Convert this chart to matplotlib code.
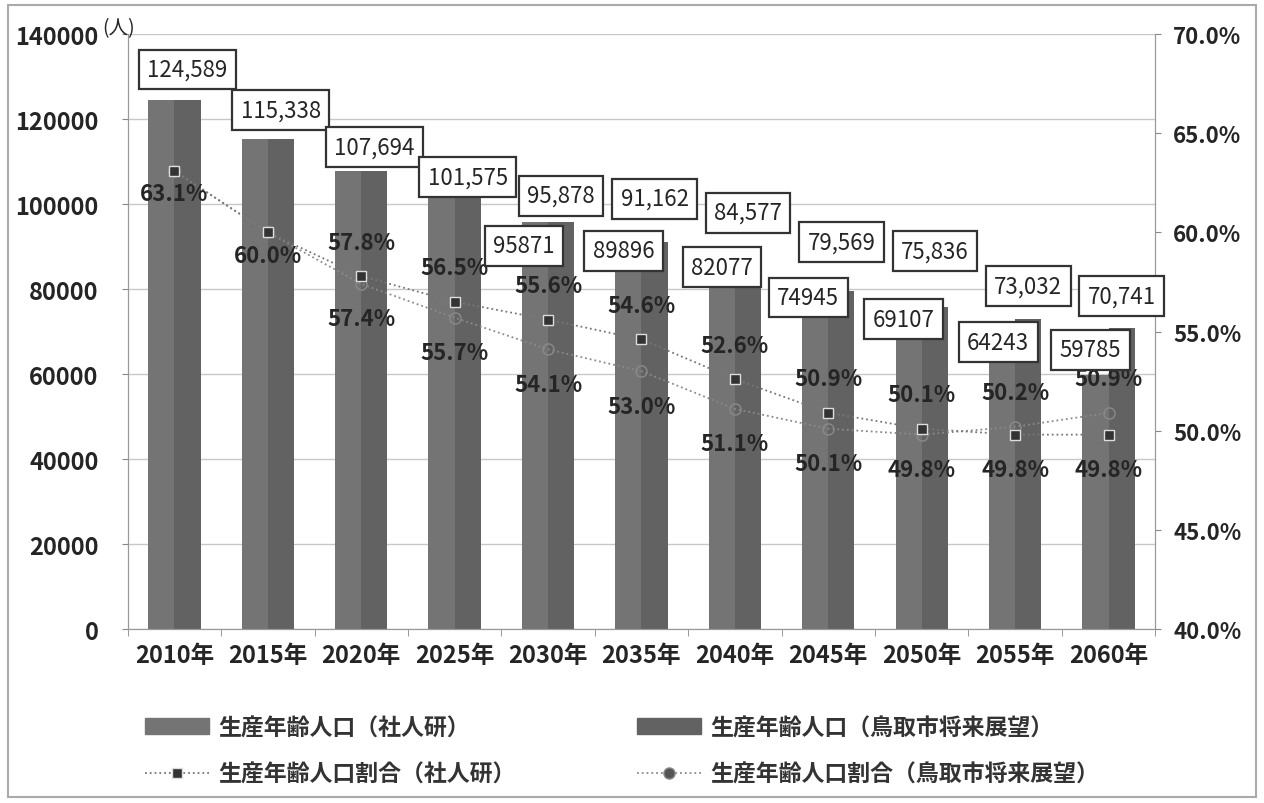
import matplotlib
matplotlib.use("Agg")
import matplotlib.pyplot as plt
from matplotlib.patches import Rectangle, Patch
from matplotlib.lines import Line2D
import matplotlib.ticker as mticker
import numpy as np

plt.rcParams['font.family'] = ['Noto Sans CJK JP', 'DejaVu Sans']

# data
years = ['2010年', '2015年', '2020年', '2025年', '2030年', '2035年',
         '2040年', '2045年', '2050年', '2055年', '2060年']
pop_ipss = [124589, 115338, 107694, 101575, 95871, 89896, 82077, 74945, 69107, 64243, 59785]
pop_vision = [124589, 115338, 107694, 101575, 95878, 91162, 84577, 79569, 75836, 73032, 70741]
ratio_ipss = [63.1, 60.0, 57.8, 56.5, 55.6, 54.6, 52.6, 50.9, 50.1, 49.8, 49.8]
ratio_vision = [63.1, 60.0, 57.4, 55.7, 54.1, 53.0, 51.1, 50.1, 49.8, 50.2, 50.9]

# label layout (offsets in px from bar top, + is up)
vision_lab_dy = [30, 29, 24, 20, 26, 43, 57, 49, 56, 33, 32]
ipss_lab_dy = [None, None, None, None, -24, -4, 13, 13, 16, 14, 25]
ipss_lab_dx = [0, 0, 0, 0, -11, -5, 0, -7, -5, -4, -5]

col_ipss = '#747474'
col_vision = '#626262'
txt = '#252525'
PX = 0.72  # px -> pt at 100 dpi

fig = plt.figure(figsize=(12.64, 8.04), dpi=100)
ax = fig.add_axes([0.101, 0.2164, 0.813, 0.740])
ax2 = ax.twinx()

x = np.arange(len(years))
w = 0.28
ax.bar(x - w/2, pop_ipss, w, color=col_ipss, zorder=2)
ax.bar(x + w/2, pop_vision, w, color=col_vision, zorder=2)

ax.set_ylim(0, 140000)
ax.set_xlim(-0.5, len(years) - 0.5)
ax.yaxis.set_major_locator(mticker.MultipleLocator(20000))
ax.grid(axis='y', color='#c8c8c8', lw=1, zorder=0)
ax.set_axisbelow(True)
ax.set_xticks(x)
ax.set_xticklabels(years)
ax.set_xticks(np.arange(len(years) + 1) - 0.5, minor=True)
ax.tick_params(axis='x', which='major', length=0, pad=10, labelsize=17, labelcolor=txt)
ax.tick_params(axis='x', which='minor', length=5, color='#888')
ax.tick_params(axis='y', length=4, color='#888', pad=17, labelsize=17, labelcolor=txt)

ax2.set_ylim(40, 70)
ax2.yaxis.set_major_locator(mticker.MultipleLocator(5))
ax2.yaxis.set_major_formatter(mticker.FuncFormatter(lambda v, p: f"{v:.1f}%"))
ax2.tick_params(axis='y', length=4, color='#888', pad=9, labelsize=16, labelcolor=txt)

for a in (ax, ax2):
    for s in a.spines.values():
        s.set_color('#999999')
    a.spines['top'].set_visible(False)

for t in ax.get_xticklabels() + ax.get_yticklabels() + ax2.get_yticklabels():
    t.set_fontweight('bold')

# ratio lines
ax2.plot(x, ratio_vision, ls=':', color='#8a8a8a', lw=1.3, marker='o', ms=8,
         mfc='none', mec='#8a8a8a', zorder=3)
ax2.plot(x, ratio_ipss, ls=':', color='#777777', lw=1.3, marker='s', ms=7,
         mfc='#333333', mec='#dddddd', zorder=4)

# ratio labels
lab = dict(ha='center', va='center', fontsize=16, color=txt, fontweight='bold', zorder=6,
           textcoords='offset points')
for i in range(len(years)):
    a, b = ratio_ipss[i], ratio_vision[i]
    if a == b:
        ax2.annotate(f"{a:.1f}%", (x[i], a), xytext=(0, -23 * PX), **lab)
        continue
    hi, lo = max(a, b), min(a, b)
    ax2.annotate(f"{hi:.1f}%", (x[i], hi), xytext=(0, 34 * PX), **lab)
    ax2.annotate(f"{lo:.1f}%", (x[i], lo), xytext=(0, -35 * PX), **lab)

# population labels
box = dict(boxstyle='square,pad=0.38', fc='white', ec='#333333', lw=1.6)
for i in range(len(years)):
    ax2.annotate(f"{pop_vision[i]:,}", (x[i] + w/2, pop_vision[i]), xycoords=ax.transData,
                 xytext=(0, vision_lab_dy[i] * PX), textcoords='offset points',
                 ha='center', va='center', fontsize=16, color=txt, bbox=box, zorder=7)
    if ipss_lab_dy[i] is not None:
        ax2.annotate(f"{pop_ipss[i]}", (x[i] - w/2, pop_ipss[i]), xycoords=ax.transData,
                     xytext=(ipss_lab_dx[i] * PX, ipss_lab_dy[i] * PX), textcoords='offset points',
                     ha='center', va='center', fontsize=16, color=txt, bbox=box, zorder=7)

fig.text(102/1264, 1 - 29/804, '(人)', ha='left', va='center', fontsize=14, color=txt)

# legend
handles = [
    Patch(color=col_ipss),
    Line2D([], [], ls=':', color='#777777', lw=1.3, marker='s', ms=7, mfc='#333333', mec='#dddddd'),
    Patch(color=col_vision),
    Line2D([], [], ls=':', color='#8a8a8a', lw=1.3, marker='o', ms=8, mfc='#555555', mec='#8a8a8a'),
]
labels = ['生産年齢人口（社人研）', '生産年齢人口割合（社人研）',
          '生産年齢人口（鳥取市将来展望）', '生産年齢人口割合（鳥取市将来展望）']
leg = fig.legend(handles, labels, ncol=2, loc='upper left', bbox_to_anchor=(0.1147, 0.108),
                 frameon=False, fontsize=16.5, handlelength=2.8, handletextpad=0.4,
                 columnspacing=5.3, labelspacing=1.04, borderpad=0, borderaxespad=0)
for t in leg.get_texts():
    t.set_color('#333333')
    t.set_fontweight('bold')

fig.patches.append(Rectangle((0.006, 0.008), 0.988, 0.984, transform=fig.transFigure,
                             fill=False, ec='#aaaaaa', lw=1.5))

fig.savefig('out.png', dpi=100)
